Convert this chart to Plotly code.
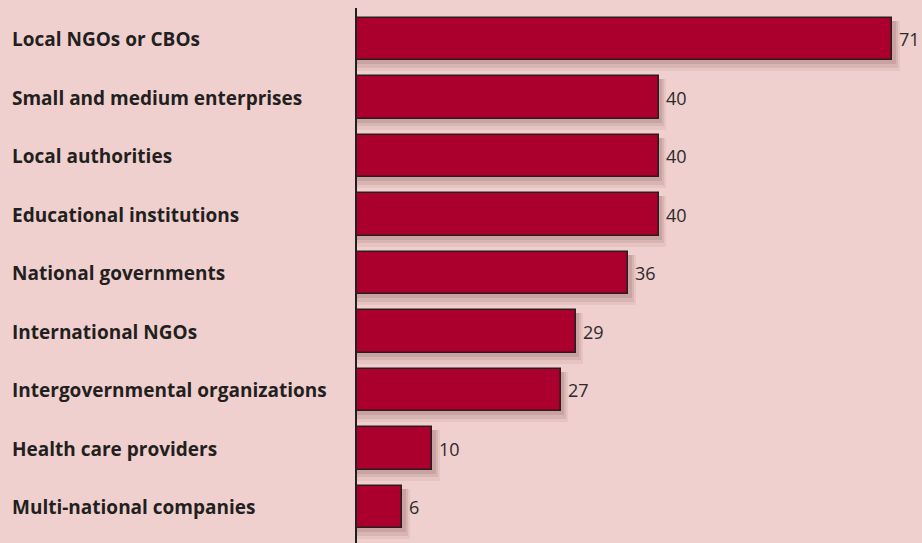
import plotly.graph_objects as go

categories = [
    "Local NGOs or CBOs",
    "Small and medium enterprises",
    "Local authorities",
    "Educational institutions",
    "National governments",
    "International NGOs",
    "Intergovernmental organizations",
    "Health care providers",
    "Multi-national companies",
]
values = [71, 40, 40, 40, 36, 29, 27, 10, 6]

BG = "#efd0ce"
BAR = "#ab002e"
EDGE = "#2b1c1e"
TEXT = "#231f20"

W, H = 922, 543
PLOT_LEFT = 357
X_MAX = (W - PLOT_LEFT) / 7.54

pos = list(range(len(categories)))

fig = go.Figure()

# soft drop shadow: a few offset translucent layers under each bar
for dx, dy, extra, alpha in [(1.0, 0.12, 0.14, 0.08),
                             (0.7, 0.09, 0.08, 0.11),
                             (0.45, 0.06, 0.02, 0.14)]:
    fig.add_trace(go.Bar(
        x=[v + dx for v in values],
        y=[p + dy for p in pos],
        base=0,
        orientation="h",
        width=0.72 + extra,
        marker=dict(color=f"rgba(110,60,60,{alpha})", line=dict(width=0)),
        hoverinfo="skip",
        showlegend=False,
    ))

fig.add_trace(go.Bar(
    x=values,
    y=pos,
    orientation="h",
    width=0.72,
    marker=dict(color=BAR, line=dict(color=EDGE, width=1.6)),
    hoverinfo="x",
    showlegend=False,
))

# value labels just right of each bar end
for p, v in zip(pos, values):
    fig.add_annotation(
        x=v, y=p, xref="x", yref="y",
        text=str(v), showarrow=False,
        xanchor="left", yanchor="middle", xshift=5,
        font=dict(family="Open Sans", size=18, color="#2d2a2b"),
    )

# category labels, left-aligned at the page edge
for p, c in zip(pos, categories):
    fig.add_annotation(
        x=-(PLOT_LEFT - 10) / (W - PLOT_LEFT), xref="paper",
        y=p, yref="y",
        text=f"<b>{c}</b>",
        showarrow=False,
        xanchor="left", yanchor="middle",
        font=dict(family="Open Sans", size=19, color=TEXT),
    )

fig.update_layout(
    width=W, height=H,
    margin=dict(l=PLOT_LEFT, r=0, t=8, b=0),
    paper_bgcolor=BG, plot_bgcolor=BG,
    barmode="overlay",
    bargap=0,
    xaxis=dict(range=[0, X_MAX], showgrid=False, zeroline=False,
               showticklabels=False, ticks="", fixedrange=True),
    yaxis=dict(range=[8.615, -0.53], showgrid=False, zeroline=False,
               showticklabels=False, ticks="", showline=True,
               linecolor=TEXT, linewidth=2, fixedrange=True),
)

fig.write_html("out.html")
